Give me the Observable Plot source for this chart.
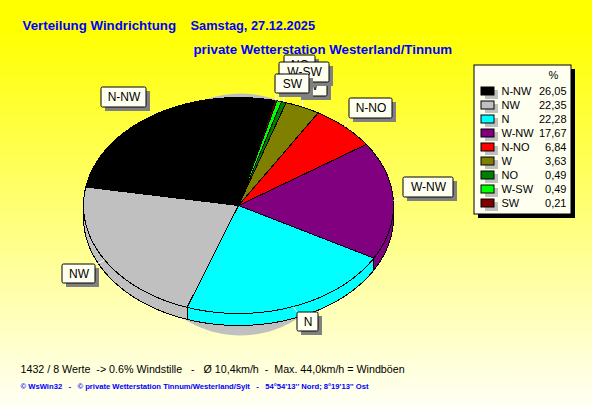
<!DOCTYPE html>
<html><head><meta charset="utf-8">
<script src="https://cdn.jsdelivr.net/npm/d3@7"></script>
<script src="https://cdn.jsdelivr.net/npm/@observablehq/plot@0.6"></script>
<style>html,body{margin:0;padding:0;background:#fffff0}svg{display:block}</style>
</head><body><div id="c"></div>
<script>
// data
const directions = ["N-NW","NW","N","W-NW","N-NO","W","NO","W-SW","SW"];
const shares = [26.05,22.35,22.28,17.67,6.84,3.63,0.49,0.49,0.21];
const colors = ["#000000","#c0c0c0","#00ffff","#800080","#ff0000","#808000","#008000","#00ff00","#800000"];
const pieOrder = ["N-NW","SW","W-SW","NO","W","N-NO","W-NW","N","NW"];
const titleLine1a = "Verteilung Windrichtung";
const titleLine1b = "Samstag, 27.12.2025";
const titleLine2 = "private Wetterstation Westerland/Tinnum";
const footer1 = "1432 / 8 Werte  -> 0.6% Windstille   -   Ø 10,4km/h  -  Max. 44,0km/h = Windböen";
const footer2 = "© WsWin32   -   © private Wetterstation Tinnum/Westerland/Sylt   -   54°54'13'' Nord; 8°19'13'' Ost";

// layout
const cx = 238, cy = 205, rx = 155, ry = 108, depth = 12, startDeg = 279.8;
const callouts = [ // drawn back to front
  {name:"N-NW", x1:101,x2:146,y1:87,y2:107},
  {name:"NW",   x1:62, x2:95, y1:264,y2:283},
  {name:"N",    x1:297,x2:318,y1:312,y2:331},
  {name:"W-NW", x1:403,x2:453,y1:177,y2:197},
  {name:"N-NO", x1:349,x2:392,y1:98, y2:118},
  {name:"NO",   x1:284,x2:315,y1:55, y2:75},
  {name:"W",    x1:297,x2:327,y1:76, y2:96},
  {name:"W-SW", x1:279,x2:329,y1:62, y2:82},
  {name:"SW",   x1:275,x2:309,y1:74, y2:93}
];
const valueOf = n => shares[directions.indexOf(n)];
const pt = (deg, dy = 0) => {
  const t = deg * Math.PI / 180;
  return {x: cx + rx * Math.sin(t), y: cy - ry * Math.cos(t) + dy};
};
const slices = [];
let a = startDeg;
for (const name of pieOrder) {
  const sweep = valueOf(name) * 3.6;
  slices.push({name, a0: a, a1: a + sweep});
  a += sweep;
}
const arc = (a0, a1, dy = 0) => {
  const n = Math.max(2, Math.ceil((a1 - a0) / 2)), out = [];
  for (let i = 0; i <= n; i++) out.push(pt(a0 + (a1 - a0) * i / n, dy));
  return out;
};
const faces = slices.flatMap(s => {
  const c = {x: cx, y: cy};
  return [c, ...arc(s.a0, s.a1), c].map(p => ({...p, name: s.name}));
});
const rims = slices.flatMap(s => {
  const out = [];
  for (const k of [0, 360]) {
    const lo = Math.max(s.a0 - k, 90), hi = Math.min(s.a1 - k, 270);
    if (hi > lo) {
      const top = arc(lo, hi), bot = arc(lo, hi, depth).reverse();
      out.push(...[...top, ...bot, top[0]].map(p => ({...p, name: s.name})));
    }
  }
  return out;
});
const shadow = d3.range(0, 361, 3).map(d => {
  const t = d * Math.PI / 180;
  return {x: 240 + 112 * Math.sin(t), y: 214 - 121 * Math.cos(t)};
});
const leaders = callouts.map(c => {
  const s = slices.find(q => q.name === c.name);
  const p = pt((s.a0 + s.a1) / 2);
  const ex = Math.min(c.x2, Math.max(c.x1, p.x)), ey = Math.min(c.y2, Math.max(c.y1, p.y));
  return {x1: p.x, y1: p.y, x2: ex, y2: ey};
});
const rowY = i => 91 + i * 14.0;
const legendRows = directions.map((name, i) => ({name, y: rowY(i), value: shares[i].toFixed(2).replace(".", ",")}));

const font = "Liberation Sans";
const polygon = (data, extra) => Plot.line(data, {x:"x", y:"y", z:"name", curve:"linear", strokeWidth:1, strokeLinejoin:"miter", shapeRendering:"crispEdges", ...extra});

const chart = Plot.plot({
  width: 592, height: 407, margin: 0,
  x: {domain:[0,592], range:[0,592], axis:null},
  y: {domain:[0,407], range:[0,407], axis:null},
  color: {domain: directions, range: colors},
  style: {background:"linear-gradient(180deg,#ffff00 0%,#ffff00 7%,#fffff5 100%)", overflow:"hidden"},
  marks: [
    Plot.text([titleLine1a], {x:()=>22, y:()=>25, text:d=>d, textAnchor:"start", fontFamily:font, fontWeight:"bold", fontSize:13.3, fill:"#0000ff"}),
    Plot.text([titleLine1b], {x:()=>190, y:()=>25, text:d=>d, textAnchor:"start", fontFamily:font, fontWeight:"bold", fontSize:12.8, fill:"#0000ff"}),
    Plot.text([titleLine2], {x:()=>193, y:()=>49, text:d=>d, textAnchor:"start", fontFamily:font, fontWeight:"bold", fontSize:13.3, fill:"#0000ff"}),

    Plot.line(shadow, {x:"x", y:"y", curve:"linear", fill:"#c0c0c0", stroke:"none"}),
    polygon(rims, {fill:"name", stroke:"#000"}),
    polygon(faces, {fill:"name", stroke:"#000"}),

    Plot.link(leaders, {x1:"x1", y1:"y1", x2:"x2", y2:"y2", stroke:"#fff", strokeWidth:1}),
    ...callouts.flatMap(c => [
      Plot.rect([c], {x1:d=>d.x1+4, x2:d=>d.x2+4, y1:d=>d.y1+4, y2:d=>d.y2+4, fill:"#808080"}),
      Plot.rect([c], {x1:"x1", x2:"x2", y1:"y1", y2:"y2", fill:"#fffff0", stroke:"#000", rx:1.5}),
      Plot.text([c], {x:d=>(d.x1+d.x2)/2, y:d=>(d.y1+d.y2)/2, text:"name", fontFamily:font, fontSize:12, fill:"#000"})
    ]),

    // legend
    Plot.rect([0], {x1:()=>478, x2:()=>575, y1:()=>69, y2:()=>218, fill:"#000"}),
    Plot.rect([0], {x1:()=>474, x2:()=>571, y1:()=>65, y2:()=>214, fill:"#fffff0", stroke:"#000"}),
    Plot.text(["%"], {x:()=>553, y:()=>75, text:d=>d, fontFamily:font, fontSize:11, fill:"#000"}),
    Plot.rect(legendRows, {x1:()=>485, x2:()=>498, y1:d=>d.y-1, y2:d=>d.y+8, fill:"#c0c0c0"}),
    Plot.rect(legendRows, {x1:()=>481, x2:()=>494, y1:d=>d.y-4, y2:d=>d.y+4, fill:"name", stroke:"#000"}),
    Plot.text(legendRows, {x:()=>501, y:"y", text:"name", textAnchor:"start", fontFamily:font, fontSize:11, fill:"#000"}),
    Plot.text(legendRows, {x:()=>566, y:"y", text:"value", textAnchor:"end", fontFamily:font, fontSize:11, fill:"#000"}),

    Plot.text([footer1], {x:()=>20, y:()=>369, text:d=>d, textAnchor:"start", fontFamily:font, fontSize:10.7, fill:"#000"}),
    Plot.text([footer2], {x:()=>20, y:()=>386, text:d=>d, textAnchor:"start", fontFamily:font, fontWeight:"bold", fontSize:7.65, fill:"#0000ff"})
  ]
});
document.getElementById("c").appendChild(chart);
</script></body></html>
